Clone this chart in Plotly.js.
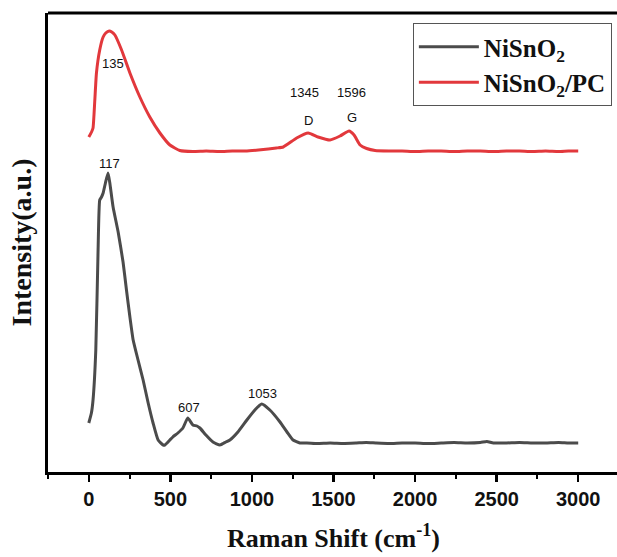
<!DOCTYPE html>
<html>
<head>
<meta charset="utf-8">
<script src="https://cdn.plot.ly/plotly-3.0.1.min.js"></script>
<style>
html,body{margin:0;padding:0;overflow:hidden;background:#fff;}
#chart{width:620px;height:557px;}
</style>
</head>
<body>
<div id="chart"></div>
<script>
// NiSnO2 (black) Raman spectrum
const niX = [0, 16, 26, 43, 57, 67, 78, 88, 102, 118, 129, 149, 180, 210, 231, 252, 272, 302, 333, 364, 394, 425, 456, 466, 497, 515, 546, 577, 607, 638, 663, 681, 718, 761, 804, 840, 865, 914, 969, 1018, 1060, 1110, 1172, 1215, 1252, 1294, 1337,
  1400, 1480, 1560, 1640, 1700, 1760, 1840, 1920, 2000, 2080, 2160, 2240, 2320, 2400, 2440, 2480, 2560, 2640, 2720, 2800, 2880, 2940, 3000];
const niY = [49, 59, 72, 122, 222, 272, 275, 279, 289, 299, 289, 265, 240, 210, 182, 155, 132, 112, 92, 69, 49, 32, 27, 27, 32, 35, 39, 44, 54, 47, 46, 44, 37, 30, 27, 30, 32, 40, 52, 62, 68, 62, 50, 40, 32, 29, 29,
  28.5, 29, 28.5, 29, 29.5, 29, 28.5, 29, 29, 28.5, 29, 29.5, 29, 29.5, 30.5, 29, 29, 29.5, 29, 29, 29.5, 29, 29];

// NiSnO2/PC (red) Raman spectrum
const pcX = [0, 17, 26, 37, 47, 67, 88, 104, 125, 141, 160, 201, 252, 313, 374, 436, 497, 558, 638, 720, 800, 880, 960, 1040, 1100, 1150, 1192, 1274, 1345, 1405, 1479, 1540, 1595, 1626, 1663, 1703, 1755,
  1840, 1920, 2000, 2080, 2160, 2240, 2320, 2400, 2480, 2560, 2640, 2720, 2800, 2880, 2940, 3000];
const pcY = [335, 340, 344, 372, 399, 422, 435, 439, 441, 440, 437, 422, 399, 375, 355, 339, 327, 321.5, 320.5, 321, 320.5, 321, 321, 322, 323, 324, 325, 334, 339, 335, 332, 336, 341, 337, 327, 323.5, 321.5,
  321, 321, 320.5, 321, 321, 320.5, 321, 321, 320.5, 321, 321, 320.5, 321, 320.5, 321, 321];

// peak labels
const labelText = ["135", "117", "607", "1053", "1345", "1596", "D", "G"];
const labelX = [147, 129, 613, 1067, 1325, 1613, 1344, 1613];
const labelY = [409, 309, 65, 79, 380, 380, 352, 355];

const seriesNames = ["NiSnO<sub>2</sub>", "NiSnO<sub>2</sub>/PC"];
const xTickVals = [0, 500, 1000, 1500, 2000, 2500, 3000];

const traces = [
  {x: niX, y: niY, type: 'scatter', mode: 'lines', name: seriesNames[0],
   line: {color: '#4b4b4b', width: 3, shape: 'spline', smoothing: 0.45}},
  {x: pcX, y: pcY, type: 'scatter', mode: 'lines', name: seriesNames[1],
   line: {color: '#e2383c', width: 3, shape: 'spline', smoothing: 0.45}}
];

const annotations = labelText.map((t, i) => ({
  x: labelX[i], y: labelY[i], xref: 'x', yref: 'y', text: t, showarrow: false,
  font: {family: 'Liberation Sans, Arial, sans-serif', size: 13, color: '#111'}
}));

const layout = {
  width: 620, height: 557,
  margin: {l: 48, r: 1, t: 13, b: 85},
  paper_bgcolor: '#fff', plot_bgcolor: '#fff',
  showlegend: true,
  legend: {
    x: 0.639, y: 0.978, xanchor: 'left', yanchor: 'top',
    bordercolor: '#555', borderwidth: 1, bgcolor: 'rgba(255,255,255,0)',
    font: {family: 'Liberation Serif, Times New Roman, serif', size: 25, color: '#111', weight: 'bold'},
    itemwidth: 60, tracegroupgap: 0
  },
  xaxis: {
    range: [-250, 3250], tickvals: xTickVals, ticktext: xTickVals.map(String),
    showline: true, linecolor: '#000', linewidth: 3, mirror: false,
    ticks: 'outside', ticklen: 7, tickwidth: 2.5, tickcolor: '#000',
    minor: {dtick: 250, tick0: 0, ticks: 'outside', ticklen: 4, tickwidth: 2, tickcolor: '#000', showgrid: false},
    showgrid: false, zeroline: false,
    tickfont: {family: 'Liberation Sans, Arial, sans-serif', size: 20, color: '#111', weight: 'bold'},
    title: {text: 'Raman Shift (cm<sup>-1</sup>)', standoff: 20,
      font: {family: 'Liberation Serif, Times New Roman, serif', size: 26, color: '#111', weight: 'bold'}}
  },
  yaxis: {
    range: [0, 459], showline: true, linecolor: '#000', linewidth: 3,
    ticks: '', showticklabels: false, showgrid: false, zeroline: false,
    title: {text: 'Intensity(a.u.)', standoff: 6,
      font: {family: 'Liberation Serif, Times New Roman, serif', size: 28, color: '#111', weight: 'bold'}}
  },
  shapes: [
    {type: 'line', xref: 'paper', yref: 'paper', x0: 0, x1: 1, y0: 1, y1: 1, line: {color: '#000', width: 3}}
  ],
  annotations: annotations
};

Plotly.newPlot('chart', traces, layout, {staticPlot: true, displayModeBar: false});
</script>
</body>
</html>
